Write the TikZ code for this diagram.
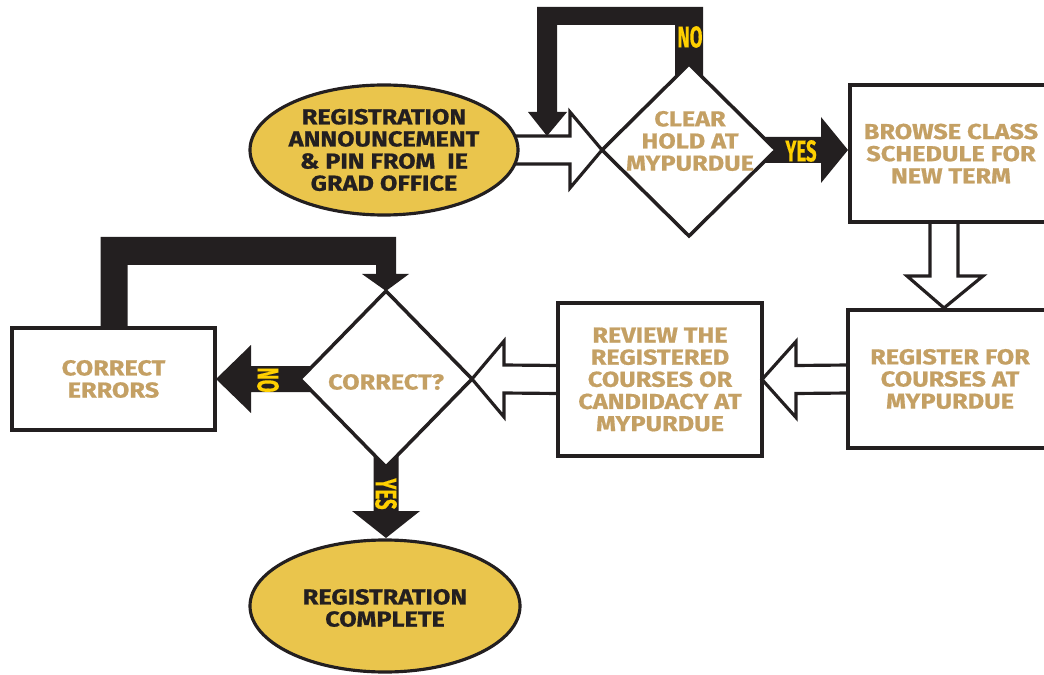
\documentclass[tikz,border=0pt]{standalone}
\usepackage{fontspec}
\setmainfont{Fira Sans}[FakeStretch=1.17, BoldFeatures={FakeBold=0.8}]
\newfontfamily\ynfont{Fira Sans}[BoldFeatures={FakeBold=0.5}]
\usepackage{graphicx}
\usetikzlibrary{shapes.geometric,calc,backgrounds}
\definecolor{ink}{RGB}{35,31,32}
\definecolor{goldfill}{RGB}{234,197,76}
\definecolor{goldtext}{RGB}{196,160,100}
\definecolor{labelyellow}{RGB}{255,208,0}
\tikzset{
  lbl/.style={font=\bfseries\fontsize{12.3}{12.6}\selectfont, align=center, inner sep=0pt},
  darktxt/.style={lbl, text=ink},
  goldtxt/.style={lbl, text=goldtext},
  oval/.style={ellipse, draw=ink, fill=goldfill, line width=1.8pt, inner sep=0pt, outer sep=0pt},
  decision/.style={diamond, draw=ink, line width=2pt, inner sep=0pt, outer sep=0pt},
  stepbox/.style={rectangle, draw=ink, line width=2.4pt, inner sep=0pt, outer sep=0pt, text=goldtext, font=\bfseries\fontsize{12.3}{12.6}\selectfont, align=center},
  hollowarrow/.style={draw=ink, line width=1.8pt, fill=white, line join=miter},
  solidarrow/.style={fill=ink, draw=none},
  yn/.style={text=labelyellow, inner sep=0pt}
}
\newcommand{\ynlabel}[1]{\scalebox{0.62}[1]{\ynfont\fontsize{17}{17}\selectfont\bfseries #1}}
\begin{document}
\begin{tikzpicture}[x=0.02cm,y=-0.02cm]
\useasboundingbox (0,0) rectangle (1044,675);

% nodes
\node[oval, minimum width=268*0.02cm, minimum height=130*0.02cm] (e1) at (384,150) {};
\node[darktxt] (e1t) at (e1) {REGISTRATION\\ANNOUNCEMENT\\\&\ PIN FROM\ \ IE\\GRAD OFFICE};

\node[decision, minimum width=174*0.02cm, minimum height=172*0.02cm] (d1) at (689,150) {};
\node[goldtxt] (d1t) at ($(d1)+(1,-9)$) {CLEAR\\HOLD AT\\MYPURDUE};

\node[stepbox, minimum width=202*0.02cm, minimum height=137*0.02cm] (b3) at (951,153.5) {BROWSE CLASS\\SCHEDULE FOR\\NEW TERM};

\node[stepbox, minimum width=204*0.02cm, minimum height=138*0.02cm] (b4) at (950,379) {REGISTER FOR\\COURSES AT\\MYPURDUE};

\node[stepbox, minimum width=204*0.02cm, minimum height=153*0.02cm] (b5) at (660,379.5) {REVIEW THE\\REGISTERED\\COURSES OR\\CANDIDACY AT\\MYPURDUE};

\node[decision, minimum width=172*0.02cm, minimum height=176*0.02cm] (d2) at (386,379) {};
\node[goldtxt] (d2t) at ($(d2)+(0,3)$) {CORRECT?};

\node[stepbox, minimum width=203*0.02cm, minimum height=102*0.02cm] (b6) at (113.5,379) {CORRECT\\ERRORS};

\node[oval, minimum width=270*0.02cm, minimum height=132*0.02cm] (e2) at (385,606) {};
\node[darktxt] (e2t) at ($(e2)+(0,2)$) {REGISTRATION\\COMPLETE};

% helper coordinates
\coordinate (loop1tip) at ($(e1.east)+(29,-14)$);
\coordinate (a2tip) at ($(b4.north)+(-6,-2)$);
\coordinate (yes1tip) at ($(b3.west |- d1.east)+(-2,0)$);
\coordinate (no2tip) at ($(b6.east |- d2.west)+(1,0)$);
\coordinate (yes2tip) at ($(d2.south |- e2.north)+(0,-2)$);

\begin{scope}[on background layer]
% hollow arrows
\draw[hollowarrow] ($(e1.east)+(-3,-14)$) -- ($(d1.west)+(-32,-14)$) -- ++(0,-24) -- (d1.west) -- ($(d1.west)+(-32,38)$) -- ++(0,-24) -- ($(e1.east)+(-3,14)$);
\draw[hollowarrow] ($(b3.south -| a2tip)+(-14,0)$) -- ($(a2tip)+(-14,-32)$) -- ++(-23,0) -- (a2tip) -- ($(a2tip)+(39,-32)$) -- ++(-25,0) -- ($(b3.south -| a2tip)+(14,0)$);
\draw[hollowarrow] ($(b4.west)+(0,-14)$) -- ($(b5.east)+(34,-14)$) -- ++(0,-24) -- (b5.east) -- ($(b5.east)+(34,38)$) -- ++(0,-24) -- ($(b4.west)+(0,14)$);
\draw[hollowarrow] ($(b5.west)+(0,-14)$) -- ($(d2.east)+(32,-14)$) -- ++(0,-24) -- (d2.east) -- ($(d2.east)+(32,38)$) -- ++(0,-24) -- ($(b5.west)+(0,14)$);
\end{scope}

% solid black arrows
\fill[solidarrow] ($(d1.north)+(-14,14)$) -- (d1.north) -- ($(d1.north)+(14,14)$) -- ($(d1.north)+(14,-57)$) -- ($(loop1tip)+(-10,-129)$) -- ($(loop1tip)+(-10,-24)$) -- ++(-9,0) -- (loop1tip) -- ($(loop1tip)+(20,-24)$) -- ++(-10,0) -- ($(loop1tip)+(10,-111)$) -- ($(d1.north)+(-14,-39)$) -- cycle;

\fill[solidarrow] ($(d1.east)+(-13,-13)$) -- ($(yes1tip)+(-27,-13)$) -- ++(0,-20) -- (yes1tip) -- ($(yes1tip)+(-27,33)$) -- ++(0,-20) -- ($(d1.east)+(-13,13)$) -- (d1.east) -- cycle;

\fill[solidarrow] ($(d2.west)+(13,-13)$) -- ($(no2tip)+(35,-13)$) -- ++(0,-21) -- (no2tip) -- ($(no2tip)+(35,34)$) -- ++(0,-21) -- ($(d2.west)+(13,13)$) -- (d2.west) -- cycle;

\fill[solidarrow] ($(b6.north)+(-13,0)$) -- ($(b6.north)+(-13,-91)$) -- ($(d2.north)+(10,-54)$) -- ($(d2.north)+(10,-17)$) -- ++(13,0) -- (d2.north) -- ($(d2.north)+(-24,-17)$) -- ++(14,0) -- ($(d2.north)+(-10,-26)$) -- ($(b6.north)+(14,-63)$) -- ($(b6.north)+(14,0)$) -- cycle;

\fill[solidarrow] ($(d2.south)+(-12.5,-12.5)$) -- (d2.south) -- ($(d2.south)+(12.5,-12.5)$) -- ($(yes2tip)+(12.5,-27)$) -- ++(21.5,0) -- (yes2tip) -- ($(yes2tip)+(-34,-27)$) -- ++(21.5,0) -- cycle;

% yes/no labels
\node[yn] (no1) at ($(d1.north)+(1,-27)$) {\ynlabel{NO}};
\node[yn] (yes1) at ($(d1.east)+(25,1)$) {\ynlabel{YES}};
\node[yn, rotate=-90] (no2) at ($(d2.west)+(-32,1)$) {\ynlabel{NO}};
\node[yn, rotate=-90] (yes2) at ($(d2.south)+(0,27)$) {\ynlabel{YES}};
\end{tikzpicture}
\end{document}
